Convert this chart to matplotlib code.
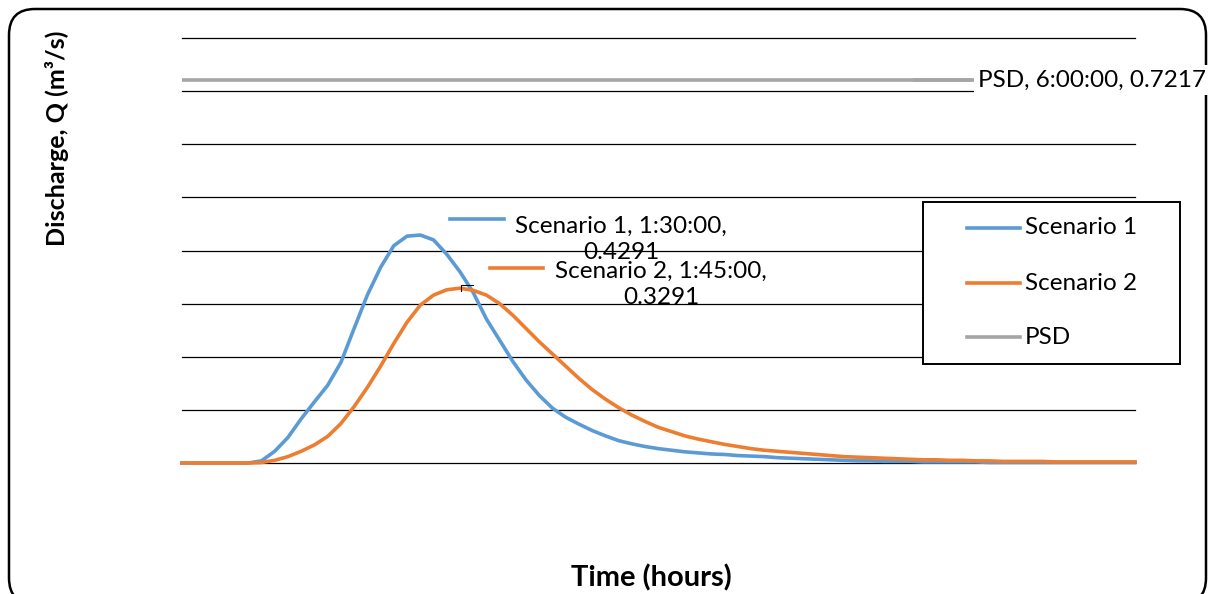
import matplotlib
matplotlib.use("Agg")
import matplotlib.pyplot as plt
from matplotlib.patches import FancyBboxPatch
from matplotlib.lines import Line2D
import numpy as np

# time in minutes (5-min steps, 0:00 to 6:00)
time_min = list(range(0, 365, 5))
scenario1 = [0, 0, 0, 0, 0, 0, 0.004, 0.022, 0.048, 0.083, 0.115, 0.146, 0.189, 0.253,
             0.316, 0.368, 0.409, 0.427, 0.4291, 0.420, 0.393, 0.360, 0.321, 0.271, 0.231,
             0.191, 0.156, 0.127, 0.103, 0.086, 0.073, 0.061, 0.051, 0.042, 0.036, 0.031,
             0.027, 0.024, 0.021, 0.019, 0.017, 0.016, 0.014, 0.013, 0.012, 0.010, 0.009,
             0.008, 0.007, 0.006, 0.005, 0.004, 0.004, 0.003, 0.003, 0.003, 0.002, 0.002,
             0.002, 0.002, 0.002, 0.001, 0.001, 0.001, 0.001, 0.001, 0.001, 0.001, 0.001,
             0.001, 0.001, 0.001, 0.001]
scenario2 = [0, 0, 0, 0, 0, 0, 0.001, 0.005, 0.012, 0.022, 0.034, 0.050, 0.074, 0.106,
             0.142, 0.182, 0.225, 0.265, 0.297, 0.316, 0.326, 0.3291, 0.325, 0.316, 0.300,
             0.278, 0.253, 0.228, 0.205, 0.182, 0.159, 0.138, 0.120, 0.104, 0.090, 0.078,
             0.067, 0.059, 0.051, 0.045, 0.040, 0.035, 0.031, 0.027, 0.024, 0.022, 0.020,
             0.018, 0.016, 0.014, 0.012, 0.011, 0.010, 0.009, 0.008, 0.007, 0.006, 0.006,
             0.005, 0.005, 0.004, 0.004, 0.003, 0.003, 0.003, 0.003, 0.002, 0.002, 0.002,
             0.002, 0.002, 0.002, 0.002]
psd_value = 0.7217
psd = [psd_value] * len(time_min)
y_grid = [0.0, 0.1, 0.2, 0.3, 0.4, 0.5, 0.6, 0.7, 0.8]

BLUE = "#5B9BD5"
ORANGE = "#ED7D31"
GRAY = "#A5A5A5"
FONT = "Lato"
FS = 17.5

plt.rcParams['font.family'] = [FONT, 'DejaVu Sans']

W, H = 1210, 594
fig = plt.figure(figsize=(W / 100, H / 100), dpi=100)

# rounded chart border
border = FancyBboxPatch((0.09, -0.10), 11.97, 5.94 - 0.09 + 0.10,
                        boxstyle="round,pad=0,rounding_size=0.26",
                        transform=fig.dpi_scale_trans, facecolor="white",
                        edgecolor="black", linewidth=1.8, zorder=-10)
fig.patches.append(border)

ax = fig.add_axes([182 / W, 1 - 463 / H, (1135 - 182) / W, (463 - 38) / H])
ax.set_facecolor("none")
ax.set_xlim(0, 360)
ax.set_ylim(0, 0.8)
for s in ax.spines.values():
    s.set_visible(False)
ax.set_xticks([])
ax.set_yticks([])
for g in y_grid:
    ax.axhline(g, color="black", lw=0.9, zorder=1, clip_on=False)

ax.plot(time_min, psd, color=GRAY, lw=2.6, solid_capstyle="butt", zorder=3)
ax.plot(time_min, scenario1, color=BLUE, lw=2.6, zorder=4, clip_on=False,
        solid_joinstyle="round")
ax.plot(time_min, scenario2, color=ORANGE, lw=2.6, zorder=5, clip_on=False,
        solid_joinstyle="round")

def px(x, y):
    return x / W, 1 - y / H

# data labels
# PSD label with white background
fig.text(*px(978, 80), "PSD, 6:00:00, 0.7217", fontsize=FS, ha="left", va="center",
         bbox=dict(facecolor="white", edgecolor="none", pad=3), zorder=6)
fig.add_artist(Line2D([915 / W, 970 / W], [1 - 79.5 / H] * 2, color=GRAY, lw=2.6, zorder=7))

fig.text(*px(621, 239), "Scenario 1, 1:30:00,\n0.4291", fontsize=FS, ha="center",
         va="center", multialignment="center", linespacing=1.3, zorder=6)
fig.add_artist(Line2D([450 / W, 504 / W], [1 - 219 / H] * 2, color=BLUE, lw=2.6, zorder=7))

fig.text(*px(661, 284), "Scenario 2, 1:45:00,\n0.3291", fontsize=FS, ha="center",
         va="center", multialignment="center", linespacing=1.3, zorder=6)
fig.add_artist(Line2D([490 / W, 543 / W], [1 - 268 / H] * 2, color=ORANGE, lw=2.6, zorder=7))

# leader tick near scenario 2 peak
fig.add_artist(Line2D([461 / W, 461 / W, 473 / W],
                      [1 - 291 / H, 1 - 285 / H, 1 - 285 / H], color="black", lw=0.8, zorder=7))

# legend
leg = FancyBboxPatch((923 / W, 1 - 364 / H), (1180 - 923) / W, (364 - 202) / H,
                     boxstyle="square,pad=0", transform=fig.transFigure,
                     facecolor="white", edgecolor="black", linewidth=1.4, zorder=8)
fig.add_artist(leg)
for yy, lab, col in [(228, "Scenario 1", BLUE), (283, "Scenario 2", ORANGE), (337, "PSD", GRAY)]:
    fig.add_artist(Line2D([967 / W, 1020 / W], [1 - yy / H] * 2, color=col, lw=2.6, zorder=9))
    fig.text(1025 / W, 1 - yy / H, lab, fontsize=FS, ha="left", va="center", zorder=9)

# axis titles
fig.text(*px(651, 578), "Time (hours)", fontsize=21, fontweight="bold",
         ha="center", va="center")
fig.text(*px(57, 138), "Discharge, Q (m³/s)", fontsize=18, fontweight="bold",
         ha="center", va="center", rotation=90)

fig.savefig("out.png", dpi=100)
